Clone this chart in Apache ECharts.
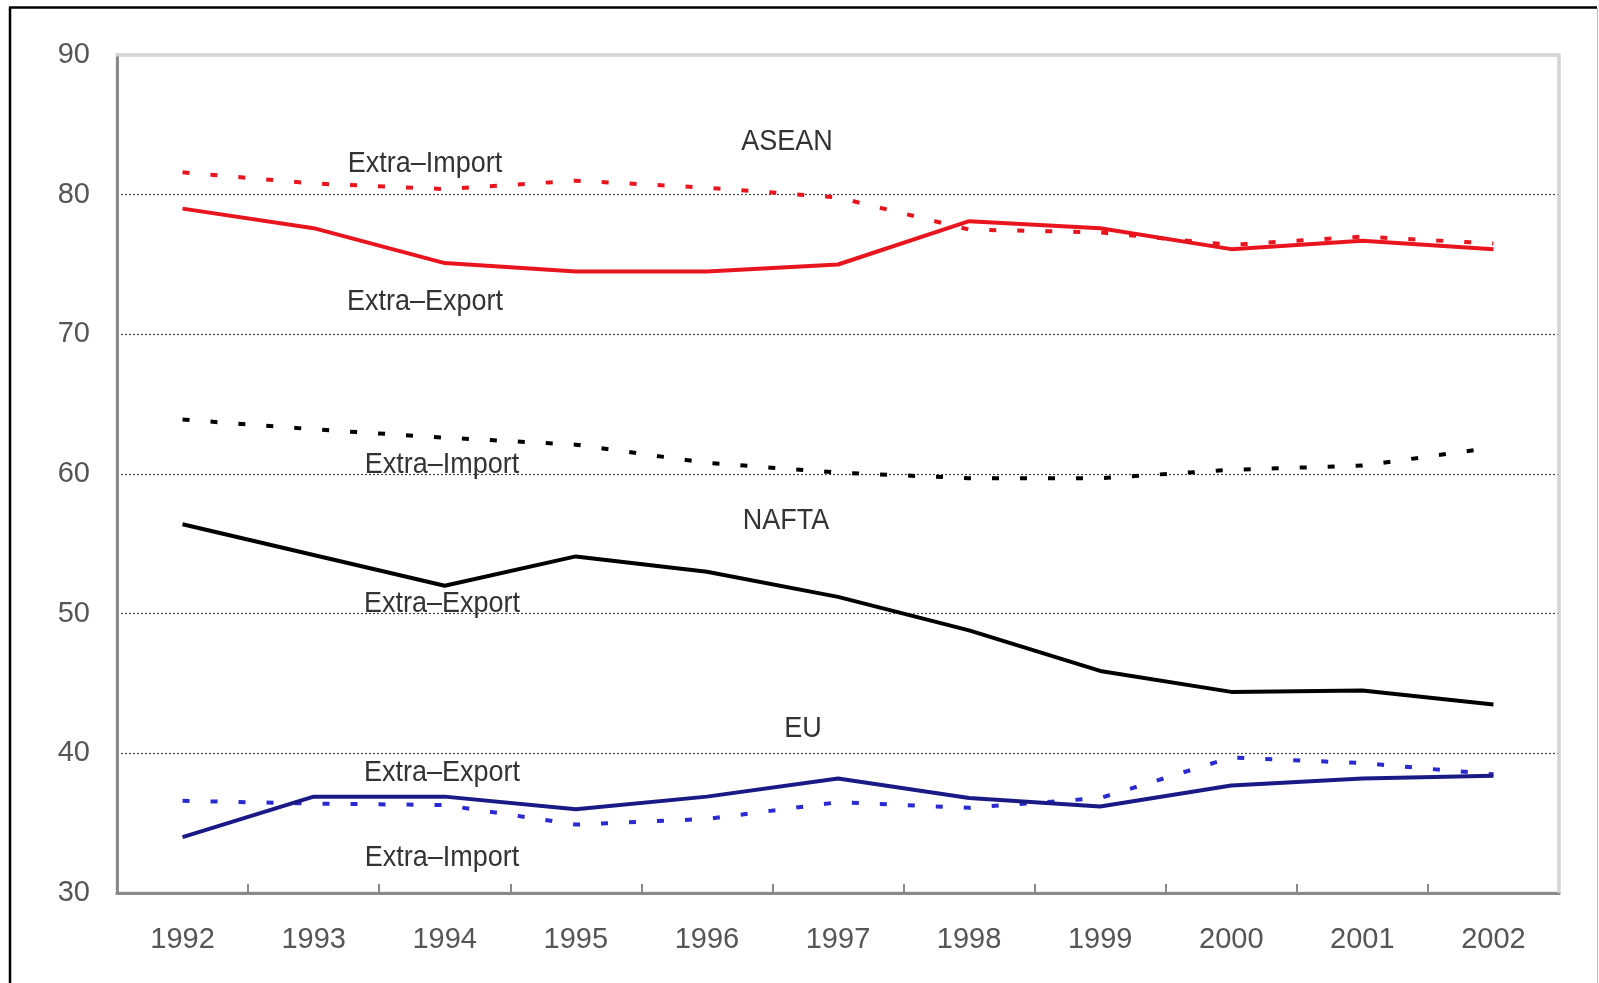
<!DOCTYPE html>
<html>
<head>
<meta charset="utf-8">
<script src="https://cdn.jsdelivr.net/npm/echarts@6/dist/echarts.min.js"></script>
<style>
html,body{margin:0;padding:0;background:#fff;}
#chart{width:1599px;height:983px;}
</style>
</head>
<body>
<div id="chart"></div>
<script>
const years = ['1992','1993','1994','1995','1996','1997','1998','1999','2000','2001','2002'];
const aseanExport = [79.0, 77.6, 75.1, 74.5, 74.5, 75.0, 78.1, 77.6, 76.1, 76.7, 76.1];
const aseanImport = [81.6, 80.8, 80.4, 81.0, 80.5, 79.8, 77.5, 77.3, 76.4, 77.0, 76.5];
const naftaImport = [63.9, 63.2, 62.6, 62.1, 60.8, 60.1, 59.7, 59.7, 60.3, 60.6, 61.9];
const naftaExport = [56.4, 54.2, 52.0, 54.1, 53.0, 51.2, 48.8, 45.9, 44.4, 44.5, 43.5];
const euExport = [34.0, 36.9, 36.9, 36.0, 36.9, 38.2, 36.8, 36.2, 37.7, 38.2, 38.4];
const euImport = [36.6, 36.4, 36.3, 34.9, 35.3, 36.5, 36.1, 36.8, 39.7, 39.3, 38.5];
const yTicks = [30, 40, 50, 60, 70, 80, 90];

const annotations = [
  {text:'ASEAN', x:787, y:142},
  {text:'Extra\u2013Import', x:425, y:164},
  {text:'Extra\u2013Export', x:425, y:302},
  {text:'Extra\u2013Import', x:442, y:465},
  {text:'NAFTA', x:786, y:521},
  {text:'Extra\u2013Export', x:442, y:604},
  {text:'EU', x:803, y:729},
  {text:'Extra\u2013Export', x:442, y:773},
  {text:'Extra\u2013Import', x:442, y:858}
];

const chart = echarts.init(document.getElementById('chart'));
const solid = (name, data, color) => ({
  name, type:'line', data, symbol:'none', smooth:false, z:3,
  lineStyle:{color, width:4, type:'solid'}
});
const dots = (name, data, color) => ({
  name, type:'line', data, symbol:'none', smooth:false, z:2,
  lineStyle:{color, width:4, type:[7, 21]}
});

const graphics = [
  {type:'line', shape:{x1:9, y1:7.5, x2:1597, y2:7.5}, style:{stroke:'#000', lineWidth:2.5}, z:10},
  {type:'line', shape:{x1:10, y1:7, x2:10, y2:983}, style:{stroke:'#000', lineWidth:2.5}, z:10},
  {type:'line', shape:{x1:1597.5, y1:8, x2:1597.5, y2:983}, style:{stroke:'#bbb', lineWidth:1}, z:10},
  {type:'line', shape:{x1:116, y1:55, x2:1560, y2:55}, style:{stroke:'#d4d4d4', lineWidth:3}, z:5},
  {type:'line', shape:{x1:1559, y1:54, x2:1559, y2:893}, style:{stroke:'#d4d4d4', lineWidth:3}, z:5}
];
annotations.forEach(a => graphics.push({
  type:'text', x:a.x, y:a.y, z:10, scaleY:1.1,
  style:{text:a.text, fill:'#333', font:'27px "Liberation Sans", Arial, sans-serif', align:'center', verticalAlign:'middle'}
}));

chart.setOption({
  animation:false,
  backgroundColor:'#fff',
  grid:{left:117, top:55, width:1442, height:838, show:true, borderColor:'#d4d4d4', borderWidth:3, backgroundColor:'transparent'},
  xAxis:{
    type:'category', data:years, boundaryGap:true,
    axisLine:{lineStyle:{color:'#8a8a8a', width:3}},
    axisTick:{show:true, inside:true, length:9, interval:0, lineStyle:{color:'#8a8a8a', width:2}},
    axisLabel:{color:'#555', fontSize:29, fontFamily:'"Liberation Sans", Arial, sans-serif', margin:32, interval:0},
    splitLine:{show:false}
  },
  yAxis:{
    type:'value', min:30, max:90, interval:10,
    axisLine:{show:true, lineStyle:{color:'#8a8a8a', width:3}},
    axisTick:{show:false},
    axisLabel:{color:'#555', fontSize:29, fontFamily:'"Liberation Sans", Arial, sans-serif', margin:27,
      formatter: v => yTicks.includes(v) ? String(v) : ''},
    splitLine:{show:true, lineStyle:{color:'#444', width:1.2, type:[2, 2]}}
  },
  graphic:graphics,
  series:[
    dots('ASEAN Extra-Import', aseanImport, '#e8141e'),
    solid('ASEAN Extra-Export', aseanExport, '#e8141e'),
    dots('NAFTA Extra-Import', naftaImport, '#000'),
    solid('NAFTA Extra-Export', naftaExport, '#000'),
    dots('EU Extra-Import', euImport, '#2a2ad2'),
    solid('EU Extra-Export', euExport, '#1a1a86')
  ]
});
</script>
</body>
</html>
